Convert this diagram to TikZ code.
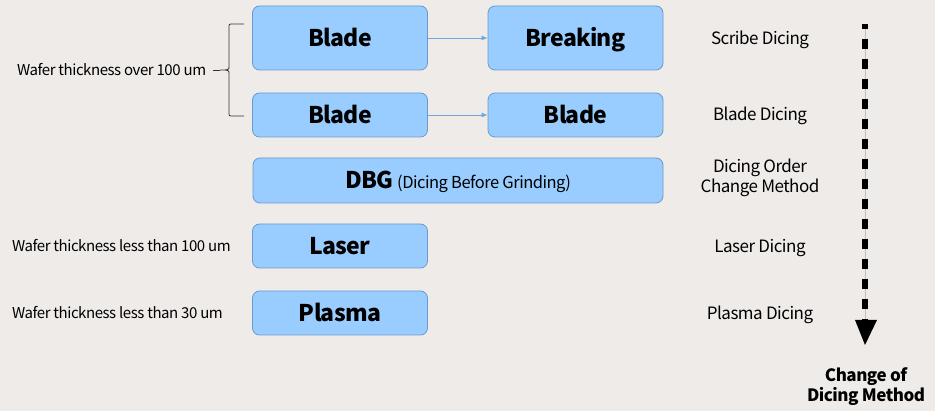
\documentclass[tikz,border=0pt]{standalone}
\usepackage{fontspec}
\setmainfont{Noto Sans CJK KR}[LetterSpace=-3]
\usetikzlibrary{arrows.meta}
\definecolor{bg}{HTML}{EFEBE8}
\definecolor{boxfill}{HTML}{99CCFF}
\definecolor{boxline}{HTML}{6A9ACB}
\definecolor{arrowblue}{HTML}{6FA8DC}
\tikzset{
  box/.style={draw=boxline, fill=boxfill, line width=0.8pt, rounded corners=7pt, inner sep=0pt,
    font=\fontsize{23}{25}\selectfont\bfseries, text=black, text height=16.8pt, text depth=0pt},
  lab/.style={font=\fontsize{17}{20}\selectfont, text=black, inner sep=0pt, text height=12.4pt, text depth=0pt},
  wlab/.style={font=\fontsize{15}{18}\selectfont, text=black, inner sep=0pt, anchor=west, text height=11pt, text depth=0pt},
  flow/.style={draw=arrowblue, line width=0.7pt, -{Latex[length=6pt,width=5pt]}}
}
\begin{document}
\begin{tikzpicture}[x=1pt,y=-1pt]
\useasboundingbox[fill=bg] (0,0) rectangle (935,411);
% boxes
\node[box, minimum width=175pt, minimum height=64pt] (b1) at (340,38) {Blade};
\node[box, minimum width=175pt, minimum height=64pt] (brk) at (575.5,38) {Breaking};
\node[box, minimum width=175pt, minimum height=44pt] (b2) at (340,115) {Blade};
\node[box, minimum width=175pt, minimum height=44pt] (b3) at (575.5,115) {Blade};
\node[box, minimum width=410pt, minimum height=45pt] (dbg) at (458,180.5) {DBG\,{\fontsize{16.5}{18}\selectfont\mdseries (Dicing Before Grinding)}};
\node[box, minimum width=175pt, minimum height=44pt] (laser) at (340,246) {Laser};
\node[box, minimum width=175pt, minimum height=44pt] (plasma) at (340,313) {Plasma};
% arrows
\draw[flow] (b1.east) -- (brk.west);
\draw[flow] (b2.east) -- (b3.west);
% right labels
\node[lab] (l1) at (760,38) {Scribe Dicing};
\node[lab] (l2) at (760,114.5) {Blade Dicing};
\node[lab, text height=, text depth=, align=center, font=\fontsize{17}{20}\selectfont] (l3) at (760,178) {Dicing Order\\Change Method};
\node[lab] (l4) at (760,246) {Laser Dicing};
\node[lab] (l5) at (760,313) {Plasma Dicing};
% left labels
\node[wlab] (w1) at (17,70) {Wafer thickness over 100 um};
\node[wlab] (w2) at (12,246) {Wafer thickness less than 100 um};
\node[wlab] (w3) at (12,313) {Wafer thickness less than 30 um};
% brace
\coordinate (bt) at (244,24);
\coordinate (bb) at (244,116);
\coordinate (bm) at (220,70);
\draw[line width=0.8pt, draw=black!80] (bt) -- (233,24) .. controls (229,24) .. (229,28) -- (229,66) .. controls (229,70) .. (bm) .. controls (229,70) .. (229,74) -- (229,112) .. controls (229,116) .. (233,116) -- (bb);
\draw[line width=0.8pt, draw=black!80] (213,70) -- (bm);
% dashed arrow
\coordinate (ds) at (865,24);
\coordinate (de) at (865,321);
\draw[line width=0.5pt, draw=black!25] (ds) -- (de);
\draw[line width=6pt, dash pattern=on 10pt off 10pt, dash phase=5pt] (ds) -- (de);
\coordinate (ah) at (865,345);
\fill (855,320) -- (877,320) -- (ah) -- cycle;
\node[font=\fontsize{17}{20}\selectfont\bfseries, align=center, inner sep=0pt] (cm) at (866,387) {Change of\\Dicing Method};
\end{tikzpicture}
\end{document}
